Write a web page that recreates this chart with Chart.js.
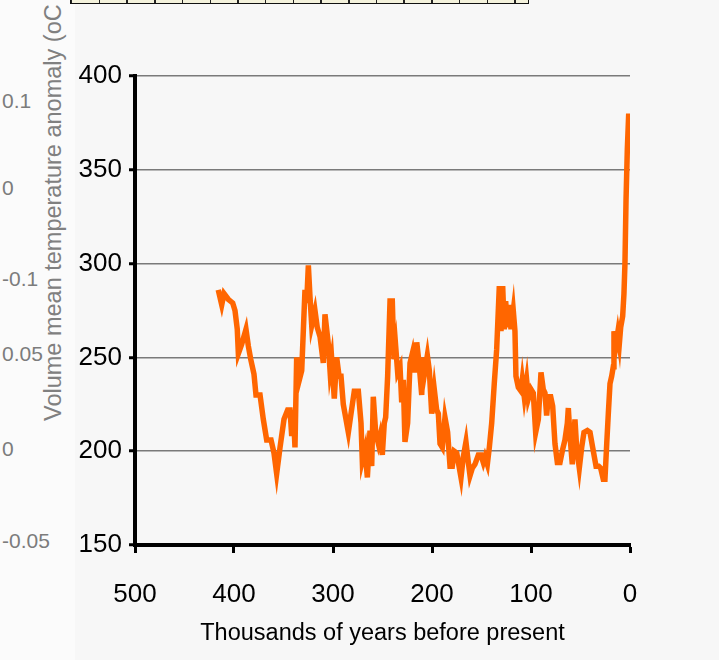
<!DOCTYPE html>
<html>
<head>
<meta charset="utf-8">
<script src="https://cdn.jsdelivr.net/npm/chart.js@4/dist/chart.umd.min.js"></script>
<style>
  html, body { margin: 0; padding: 0; }
  body { width: 719px; height: 660px; background: #f7f7f7; position: relative; overflow: hidden; font-family: "Liberation Sans", Arial, sans-serif; }
  #leftStrip { position: absolute; left: 0; top: 0; width: 75px; height: 660px; background: #fbfbfb; }
  #ruler { position: absolute; left: 70px; top: -3px; width: 457px; height: 5px; border: 1.5px solid #111; background: repeating-linear-gradient(90deg, #222 0 1.5px, #f4f2dc 1.5px 27.7px); }
  .old { position: absolute; left: 2px; color: #7c7c7c; font-size: 21px; line-height: 1; transform: translateY(-50%); }
  #oldTitle { position: absolute; left: 42px; top: 421px; color: #808080; font-size: 23.5px; line-height: 1; white-space: nowrap; transform-origin: 0 0; transform: rotate(-90deg); }
  #chart { position: absolute; left: 0; top: 0; }
</style>
</head>
<body>
<div id="leftStrip"></div>
<div id="ruler"></div>
<div class="old" style="top:100px">0.1</div>
<div class="old" style="top:187px">0</div>
<div class="old" style="top:278px">-0.1</div>
<div class="old" style="top:353px">0.05</div>
<div class="old" style="top:448px">0</div>
<div class="old" style="top:540px">-0.05</div>
<div id="oldTitle">Volume mean temperature anomaly (oC</div>
<canvas id="chart" width="719" height="660"></canvas>
<script>
// Thousands of years before present
const years = [
  415.9, 412.4, 410.1, 405.8, 401.3, 399, 396.7, 395.6, 392.2, 387.9,
  385.5, 383.1, 379.8, 377.8, 373.7, 370.4, 367, 362.6, 359.6, 356.9,
  353.5, 349.5, 345.8, 343.4, 341.7, 340.1, 338.4, 336.7, 335, 331.6,
  328.3, 326.6, 324.9, 323.2, 321.5, 318.2, 315.9, 313.1, 309.8, 308.1,
  304.7, 303, 301.3, 298.7, 296.3, 293.9, 291.9, 289.6, 287.2, 284.5,
  281.8, 278.5, 274.4, 271.7, 270.4, 267.7, 265.3, 262.6, 260.9, 259.3,
  256.9, 254.2, 252.5, 250.2, 248.2, 246.8, 244.8, 242.4, 240.1, 238.4,
  236.7, 234.7, 232.3, 230.6, 229, 227.3, 224.6, 222.2, 219.9, 217.9,
  215.4, 213.1, 210.4, 208.8, 207.1, 204.7, 202.7, 200.3, 197.7, 195.3,
  193.6, 191.9, 189.6, 186.9, 184.2, 181.8, 179.5, 177.5, 175, 172.7,
  170.7, 168.4, 165.7, 163.3, 161.6, 159.3, 156.6, 153.2, 150.5, 148.2,
  146.5, 144.1, 142.1, 139.7, 137.1, 134.7, 132, 130.3, 128.6, 127,
  125.6, 123.6, 121.9, 120.2, 117.9, 116.2, 115.2, 112.8, 110.1, 108.8,
  106.8, 104.4, 102.7, 100, 97.7, 95.3, 92.6, 89.9, 87.6, 85.9,
  84.2, 82.5, 80.1, 78.1, 75.8, 73.4, 70.7, 68, 65.7, 63.3,
  62.3, 60.6, 58.3, 55.6, 53.9, 51.2, 48.8, 46.5, 43.1, 40.4,
  37.7, 34.3, 31.6, 29.6, 27, 25.3, 23.5, 21.9, 20.2, 18.5,
  16.9, 16.2, 14.1, 12.4, 10.8, 9.4, 7.4, 6.1, 5.1, 4,
  2.7, 1.3
];
// CO2 (ppm)
const co2 = [
  286, 278, 284, 281, 279, 275, 265, 252, 257, 265,
  256, 249, 241, 230, 230, 217, 206, 206, 199, 188,
  202, 217, 222, 222, 208, 222, 202, 250, 236, 243,
  286, 279, 299, 282, 267, 275, 266, 261, 247, 273,
  257, 243, 249, 228, 250, 240, 240, 225, 218, 210,
  220, 232, 232, 215, 195, 201, 186, 211, 192, 229,
  210, 204, 208, 198, 215, 218, 240, 280, 280, 249,
  256, 242, 245, 226, 238, 205, 215, 247, 252, 242,
  258, 247, 230, 250, 243, 251, 243, 220, 233, 222,
  220, 204, 202, 218, 210, 192, 192, 200, 199, 192,
  186, 197, 205, 194, 187, 191, 193, 198, 198, 194,
  197, 193, 202, 215, 236, 254, 288, 264, 288, 265,
  280, 266, 278, 265, 275, 264, 240, 234, 232, 238,
  229, 238, 228, 233, 231, 210, 217, 242, 233, 231,
  219, 229, 229, 224, 204, 194, 194, 201, 206, 215,
  223, 208, 193, 217, 202, 191, 202, 210, 211, 210,
  202, 192, 192, 191, 185, 185, 204, 220, 236, 240,
  245, 264, 257, 263, 257, 266, 272, 284, 300, 334,
  361, 380
];
const yTicks = [150, 200, 250, 300, 350, 400];
const xTicks = [500, 400, 300, 200, 100, 0];

const points = years.map((x, i) => ({ x: x, y: co2[i] }));

const ctx = document.getElementById('chart').getContext('2d');
const chart = new Chart(ctx, {
  type: 'line',
  data: {
    datasets: [{
      data: points,
      borderColor: '#ff6600',
      borderWidth: 5.5,
      pointRadius: 0,
      tension: 0,
      fill: false
    }]
  },
  options: {
    responsive: false,
    animation: false,
    layout: { padding: { left: 75, right: 89, top: 76, bottom: 0 } },
    plugins: { legend: { display: false }, tooltip: { enabled: false } },
    scales: {
      x: {
        type: 'linear',
        reverse: true,
        min: 0,
        max: 500,
        afterBuildTicks: s => { s.ticks = xTicks.map(v => ({ value: v })); },
        afterFit: s => { s.height = 115; },
        border: { display: true, color: '#000', width: 4 },
        grid: { drawOnChartArea: false, drawTicks: true, tickLength: 8, tickWidth: 3, tickColor: '#000' },
        ticks: { color: '#000', padding: 26, maxRotation: 0, font: { family: 'Liberation Sans', size: 26 } },
        title: {
          display: true,
          text: 'Thousands of years before present',
          color: '#000',
          font: { family: 'Liberation Sans', size: 23.5 },
          padding: { top: 0, bottom: 12 }
        }
      },
      y: {
        min: 150,
        max: 400,
        afterBuildTicks: s => { s.ticks = yTicks.map(v => ({ value: v })); },
        afterFit: s => { s.width = 60; },
        border: { display: true, color: '#000', width: 4 },
        grid: { color: '#7a7a7a', lineWidth: 1.5, tickLength: 6, tickWidth: 3, tickColor: '#000' },
        ticks: { color: '#000', padding: 7, font: { family: 'Liberation Sans', size: 26 } }
      }
    }
  }
});
</script>
</body>
</html>
